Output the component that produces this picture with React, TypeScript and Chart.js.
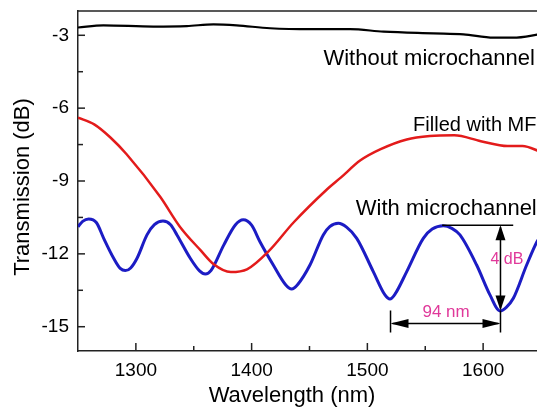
import React, { useEffect, useRef } from 'react';
import { Chart, registerables } from 'chart.js';

Chart.register(...registerables);

// ---------- data ----------
const wavelengthWithout = [1250, 1272, 1315, 1344, 1367, 1387, 1416, 1451, 1485, 1514, 1557, 1583, 1609, 1626, 1650];
const transWithout = [-2.68, -2.59, -2.64, -2.62, -2.55, -2.59, -2.71, -2.75, -2.75, -2.85, -2.92, -2.96, -3.1, -3.1, -2.95];

const wavelengthMF = [1250, 1264, 1278, 1292, 1321, 1338, 1356, 1367, 1382, 1396, 1415, 1436, 1465, 1477, 1494, 1511, 1534, 1554, 1575, 1598, 1621, 1634, 1650];
const transMF = [-6.39, -6.67, -7.21, -7.9, -9.65, -10.88, -11.86, -12.42, -12.75, -12.64, -11.88, -10.72, -9.35, -8.86, -8.15, -7.7, -7.29, -7.15, -7.12, -7.36, -7.56, -7.56, -7.8];

const wavelengthWith = [
  1250, 1254, 1259.2, 1266, 1272.2, 1280.8, 1286.5, 1290.9, 1295.5, 1301, 1309.6, 1316, 1323.4,
  1330, 1335.5, 1347, 1355, 1360, 1365, 1375.9, 1385.9, 1392.8, 1400, 1407.2, 1418.7, 1429, 1434.6,
  1440, 1450.4, 1461.9, 1467.5, 1474.9, 1482, 1490.8, 1505.1, 1515.2, 1519.5, 1524, 1534, 1548.3,
  1556, 1565.6, 1573, 1580, 1594.4, 1605.9, 1614.6, 1620, 1626.1, 1637.6, 1646.5, 1650,
];
const transWith = [
  -10.88, -10.66, -10.56, -10.72, -11.36, -12.18, -12.6, -12.69, -12.58, -12.18, -11.22, -10.8, -10.65,
  -10.8, -11.22, -12.18, -12.7, -12.83, -12.68, -11.64, -10.81, -10.6, -10.82, -11.5, -12.46, -13.25, -13.45,
  -13.25, -12.46, -11.22, -10.88, -10.74, -10.9, -11.36, -12.73, -13.69, -13.86, -13.65, -12.73, -11.36,
  -10.98, -10.84, -10.95, -11.22, -12.46, -13.69, -14.35, -14.2, -13.83, -12.46, -11.5, -11.25,
];

const seriesNames = ['Without microchannel', 'Filled with MF', 'With microchannel'];

const xTickValues = [1300, 1350, 1400, 1450, 1500, 1550, 1600];
const xTickLabels = ['1300', '', '1400', '', '1500', '', '1600'];
const yTickValues = [-15, -13.5, -12, -10.5, -9, -7.5, -6, -4.5, -3];
const yTickLabels = ['-15', '', '-12', '', '-9', '', '-6', '', '-3'];

const xTitle = 'Wavelength (nm)';
const yTitle = 'Transmission (dB)';

// annotation anchors (data units)
const fsrText = '94 nm';
const fsrFrom = 1520;
const fsrTo = 1615;
const fsrLevel = -14.87;
const depthText = '4 dB';
const depthAt = 1615;
const depthTop = -10.82;
const depthBottom = -14.33;
const depthRefFrom = 1564.6;
const depthRefTo = 1626;

const FONT = "'Liberation Sans', Arial, Helvetica, sans-serif";
const MAGENTA = '#e0399a';

function arrowHead(ctx: CanvasRenderingContext2D, tx: number, ty: number, dx: number, dy: number, len: number, half: number) {
  const bx = tx - dx * len;
  const by = ty - dy * len;
  const px = -dy;
  const py = dx;
  ctx.beginPath();
  ctx.moveTo(tx, ty);
  ctx.lineTo(bx + px * half, by + py * half);
  ctx.lineTo(bx - px * half, by - py * half);
  ctx.closePath();
  ctx.fill();
}

const decorPlugin = {
  id: 'decor',
  afterDraw(chart: any) {
    const ctx: CanvasRenderingContext2D = chart.ctx;
    const xs = chart.scales.x;
    const ys = chart.scales.y;
    const area = chart.chartArea;
    ctx.save();
    ctx.strokeStyle = '#222';
    ctx.lineWidth = 1.5;
    ctx.beginPath();
    ctx.moveTo(area.left, area.top);
    ctx.lineTo(area.right, area.top);
    ctx.stroke();
    xTickValues.forEach((v, i) => {
      const px = xs.getPixelForValue(v);
      const len = xTickLabels[i] ? 8 : 5;
      ctx.beginPath();
      ctx.moveTo(px, area.bottom);
      ctx.lineTo(px, area.bottom - len);
      ctx.stroke();
    });
    yTickValues.forEach((v, i) => {
      const py = ys.getPixelForValue(v);
      const len = yTickLabels[i] ? 7 : 5;
      ctx.beginPath();
      ctx.moveTo(area.left, py);
      ctx.lineTo(area.left + len, py);
      ctx.stroke();
    });

    ctx.fillStyle = '#000';
    ctx.font = `22px ${FONT}`;
    ctx.textAlign = 'center';
    ctx.textBaseline = 'alphabetic';
    ctx.fillText(xTitle, 292, 402);
    ctx.save();
    ctx.translate(29, 187);
    ctx.rotate(-Math.PI / 2);
    ctx.fillText(yTitle, 0, 0);
    ctx.restore();

    ctx.textAlign = 'left';
    ctx.font = `22px ${FONT}`;
    ctx.fillText(seriesNames[0], xs.getPixelForValue(1462), ys.getPixelForValue(-4.24));
    ctx.font = `20px ${FONT}`;
    ctx.fillText(seriesNames[1], xs.getPixelForValue(1539.5), ys.getPixelForValue(-6.96));
    ctx.font = `22px ${FONT}`;
    ctx.fillText(seriesNames[2], xs.getPixelForValue(1490), ys.getPixelForValue(-10.42));

    ctx.strokeStyle = '#000';
    ctx.fillStyle = '#000';
    ctx.lineWidth = 1.5;
    const dX = xs.getPixelForValue(depthAt);
    const dTop = ys.getPixelForValue(depthTop);
    const dBot = ys.getPixelForValue(depthBottom);
    ctx.beginPath();
    ctx.moveTo(xs.getPixelForValue(depthRefFrom), dTop);
    ctx.lineTo(xs.getPixelForValue(depthRefTo), dTop);
    ctx.moveTo(dX, dTop + 2);
    ctx.lineTo(dX, dBot - 2);
    ctx.stroke();
    arrowHead(ctx, dX, dTop, 0, -1, 15, 5);
    arrowHead(ctx, dX, dBot, 0, 1, 15, 5);

    const fL = xs.getPixelForValue(fsrFrom);
    const fR = xs.getPixelForValue(fsrTo);
    const fY = ys.getPixelForValue(fsrLevel);
    const extTop = ys.getPixelForValue(depthBottom);
    ctx.beginPath();
    ctx.moveTo(fL, extTop);
    ctx.lineTo(fL, fY + 9);
    ctx.moveTo(fR, extTop);
    ctx.lineTo(fR, fY + 9);
    ctx.moveTo(fL + 2, fY);
    ctx.lineTo(fR - 2, fY);
    ctx.stroke();
    arrowHead(ctx, fL, fY, -1, 0, 18, 4.5);
    arrowHead(ctx, fR, fY, 1, 0, 18, 4.5);

    ctx.fillStyle = MAGENTA;
    ctx.textAlign = 'center';
    ctx.font = `17px ${FONT}`;
    ctx.fillText(fsrText, xs.getPixelForValue(1568), ys.getPixelForValue(-14.61));
    ctx.font = `16px ${FONT}`;
    ctx.fillText(depthText, xs.getPixelForValue(1620.5), ys.getPixelForValue(-12.43));
    ctx.restore();
  },
};

export default function App() {
  const ref = useRef<HTMLCanvasElement | null>(null);
  useEffect(() => {
    if (!ref.current) return;
    const mk = (xsArr: number[], ysArr: number[]) => xsArr.map((x, i) => ({ x, y: ysArr[i] }));
    const common = { pointRadius: 0, cubicInterpolationMode: 'monotone', fill: false };
    const chart = new Chart(ref.current, {
      type: 'line',
      data: {
        datasets: [
          { ...common, label: seriesNames[0], data: mk(wavelengthWithout, transWithout), borderColor: '#000000', borderWidth: 2.2 },
          { ...common, label: seriesNames[1], data: mk(wavelengthMF, transMF), borderColor: '#e31b1b', borderWidth: 2.5 },
          { ...common, label: seriesNames[2], data: mk(wavelengthWith, transWith), borderColor: '#1c1cc4', borderWidth: 3 },
        ],
      },
      options: {
        responsive: false,
        animation: false,
        devicePixelRatio: 1,
        layout: { padding: { top: 11, right: 4, bottom: 0, left: 0 } },
        plugins: { legend: { display: false }, tooltip: { enabled: false } },
        scales: {
          x: {
            type: 'linear',
            min: 1250,
            max: 1650,
            afterFit: (s: any) => { s.height = 56; s.paddingLeft = 0; s.paddingRight = 0; },
            afterBuildTicks: (s: any) => { s.ticks = xTickValues.map((v) => ({ value: v })); },
            grid: { display: false, drawTicks: false },
            border: { display: true, color: '#222', width: 1.5 },
            ticks: {
              padding: 8,
              autoSkip: false,
              maxRotation: 0,
              color: '#000',
              font: { family: FONT, size: 19 },
              callback: (v: any) => xTickLabels[xTickValues.indexOf(Number(v))] ?? '',
            },
          },
          y: {
            type: 'linear',
            min: -16,
            max: -2,
            afterFit: (s: any) => { s.width = 78; s.paddingTop = 0; s.paddingBottom = 0; },
            afterBuildTicks: (s: any) => { s.ticks = yTickValues.map((v) => ({ value: v })); },
            grid: { display: false, drawTicks: false },
            border: { display: true, color: '#222', width: 1.5 },
            ticks: {
              padding: 9,
              autoSkip: false,
              color: '#000',
              font: { family: FONT, size: 19 },
              callback: (v: any) => yTickLabels[yTickValues.indexOf(Number(v))] ?? '',
            },
          },
        },
      },
      plugins: [decorPlugin],
    } as any);
    return () => chart.destroy();
  }, []);
  return (
    <div style={{ position: 'fixed', left: 0, top: 0, width: 537, height: 407, overflow: 'hidden', background: '#fff' }}>
      <canvas ref={ref} width={545} height={407} style={{ width: 545, height: 407, display: 'block' }} />
    </div>
  );
}
